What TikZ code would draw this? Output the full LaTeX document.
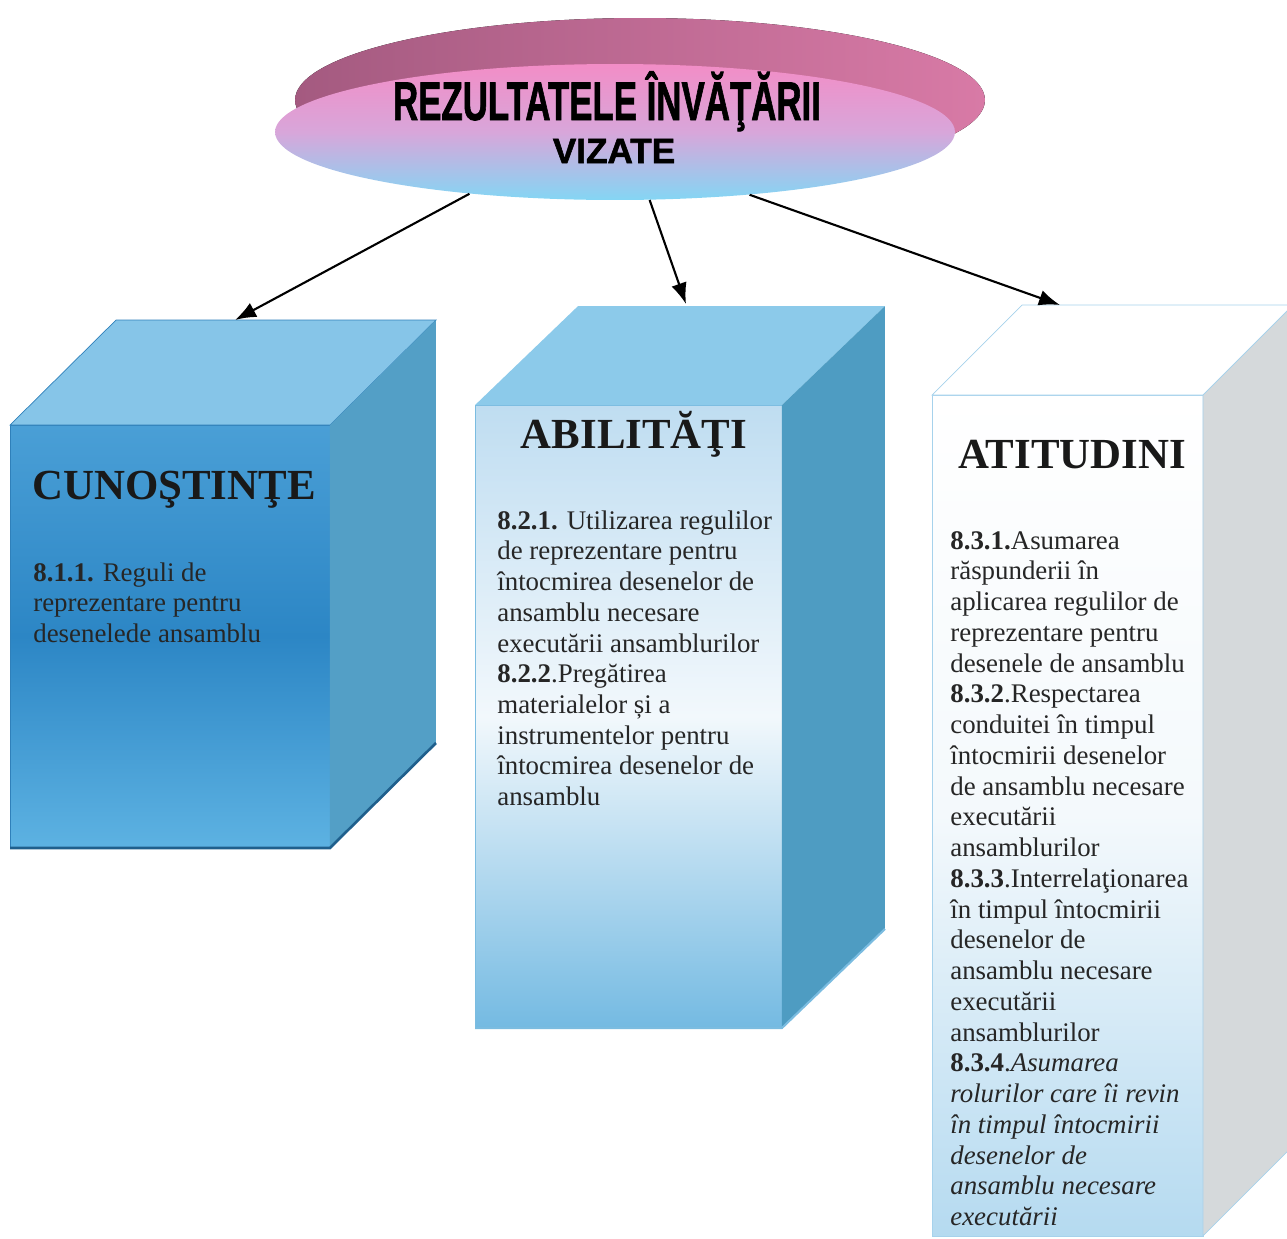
\documentclass[tikz,border=0pt]{standalone}
\usepackage{fontspec}
\setmainfont{Liberation Serif}
\newfontfamily\artfont[BoldFeatures={FakeBold=1.6}]{Liberation Sans}
\usetikzlibrary{arrows.meta,shapes.geometric,calc}

\definecolor{rimmauve}{HTML}{A45A80}
\definecolor{rimpink}{HTML}{D87AA6}
\definecolor{facepink}{HTML}{F28DC6}
\definecolor{facelilac}{HTML}{D8A6DA}
\definecolor{facecyan}{HTML}{84D6F4}
\definecolor{knowtop}{HTML}{4A9FD6}
\definecolor{knowmid}{HTML}{2C86C5}
\definecolor{knowbot}{HTML}{5DB2E2}
\definecolor{knowlid}{HTML}{86C5E8}
\definecolor{knowside}{HTML}{539FC6}
\definecolor{knowedge}{HTML}{2F80BA}
\definecolor{knowdark}{HTML}{1F5F8C}
\definecolor{skilltop}{HTML}{BFDDF1}
\definecolor{skillmid}{HTML}{F2F8FC}
\definecolor{skillbot}{HTML}{74BAE2}
\definecolor{skilllid}{HTML}{8CCAEA}
\definecolor{skillside}{HTML}{4E9CC2}
\definecolor{skilledge}{HTML}{7BBCE0}
\definecolor{attimid}{HTML}{F4F9FC}
\definecolor{attibot}{HTML}{B5DAF0}
\definecolor{attiedge}{HTML}{A6D2EC}
\definecolor{attiside}{HTML}{D5D9DB}

\begin{document}
\begin{tikzpicture}[x=0.02cm, y=-0.02cm,
	face/.style={shape=rectangle, inner sep=0pt, outer sep=0pt},
	heading/.style={font=\fontsize{24.4}{28}\selectfont\bfseries, text=black!90, anchor=base, inner sep=0pt},
	bodytext/.style={font=\fontsize{15.3}{17.5}\selectfont, align=left, anchor=north west, inner sep=0pt, text=black!85},
	arttext/.style={font=\artfont\fontsize{31}{31}\selectfont\bfseries, anchor=base, inner sep=0pt},
	link/.style={line width=1.2pt, -{Latex[length=12pt,width=9pt]}}]
			\clip (0,0) rectangle (1287,1238);
			\fill[left color=rimmauve, right color=rimpink] (640,100) ellipse [x radius=6.9cm, y radius=1.64cm];
			\node[shape=ellipse, minimum width=13.6cm, minimum height=2.72cm, inner sep=0pt, top color=facepink, bottom color=facecyan, middle color=facelilac](goal) at (615,132){};
			\node[arttext](goalline1) at (607,120){\scalebox{0.64}[1]{REZULTATELE ÎNVĂŢĂRII}};
			\node[arttext, font=\artfont\fontsize{20}{20}\selectfont\bfseries](goalline2) at (614,163){VIZATE};
			\node[face, minimum width=6.4cm, minimum height=8.46cm, top color=knowtop, bottom color=knowbot, middle color=knowmid, draw=knowedge](know) at (170,636.5){};
			\fill[knowlid, draw=knowedge] (know.north west) -- ++(106,-105) -- ([shift={(106,-105)}]know.north east) -- (know.north east) -- cycle;
			\fill[knowside] (know.north east) -- ++(106,-105) -- ([shift={(106,-105)}]know.south east) -- (know.south east) -- cycle;
			\draw[knowdark, line width=1.5pt] (know.south west) -- (know.south east) -- ++(106,-105);
			\node[heading](knowtitle) at (174,499){CUNOŞTINŢE};
			\node[bodytext](knowtext) at (33,562){\textbf{8.1.1.} Reguli de\\ reprezentare pentru\\ desenelede ansamblu};
			\node[face, minimum width=6.14cm, minimum height=12.46cm, top color=skilltop, bottom color=skillbot, middle color=skillmid, draw=skilledge](skill) at (628.5,716.5){};
			\fill[skilllid] (skill.north west) -- ++(103,-99) -- ([shift={(103,-99)}]skill.north east) -- (skill.north east) -- cycle;
			\fill[skillside] (skill.north east) -- ++(103,-99) -- ([shift={(103,-99)}]skill.south east) -- (skill.south east) -- cycle;
			\draw[skilledge, line width=1.2pt] (skill.south west) -- (skill.south east) -- ++(103,-99);
			\node[heading](skilltitle) at (634,448){ABILITĂŢI};
			\node[bodytext](skilltext) at (497,510){\textbf{8.2.1.} Utilizarea regulilor\\ de reprezentare pentru\\ întocmirea desenelor de\\ ansamblu necesare\\ executării ansamblurilor\\ \textbf{8.2.2}.Pregătirea\\ materialelor și a\\ instrumentelor pentru\\ întocmirea desenelor de\\ ansamblu};
			\node[face, minimum width=5.42cm, minimum height=16.82cm, top color=white, bottom color=attibot, middle color=attimid, draw=attiedge](atti) at (1067.5,815.5){};
			\fill[white, draw=attiedge] (atti.north west) -- ++(90,-90) -- ([shift={(90,-90)}]atti.north east) -- (atti.north east) -- cycle;
			\fill[attiside, draw=attiedge] (atti.north east) -- ++(90,-90) -- ([shift={(90,-90)}]atti.south east) -- (atti.south east) -- cycle;
			\node[heading](attititle) at (1072,468){ATITUDINI};
			\node[bodytext](attitext) at (950,531){\textbf{8.3.1.}Asumarea\\ răspunderii în\\ aplicarea regulilor de\\ reprezentare pentru\\ desenele de ansamblu\\ \textbf{8.3.2}.Respectarea\\ conduitei în timpul\\ întocmirii desenelor\\ de ansamblu necesare\\ executării\\ ansamblurilor\\ \textbf{8.3.3}.Interrelaţionarea\\ în timpul întocmirii\\ desenelor de\\ ansamblu necesare\\ executării\\ ansamblurilor\\ \textbf{8.3.4}.\textit{Asumarea}\\ \textit{rolurilor care îi revin}\\ \textit{în timpul întocmirii}\\ \textit{desenelor de}\\ \textit{ansamblu necesare}\\ \textit{executării}};
			\coordinate (knowtip) at (235,320);
			\coordinate (skilltip) at (686,304);
			\coordinate (attitip) at (1060,305);
			\draw[link] (goal.203) -- (knowtip);
			\draw[link] (goal.297) -- (skilltip);
			\draw[link] (goal.335) -- (attitip);
		\end{tikzpicture}
\end{document}
